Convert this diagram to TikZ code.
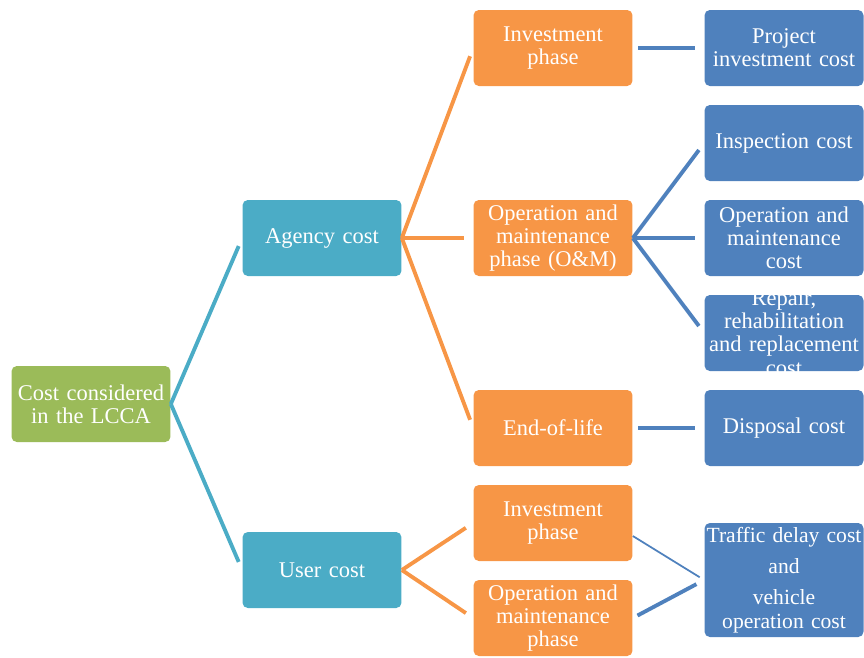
\documentclass[tikz,border=0pt]{standalone}
\usepackage{fontspec}
\setmainfont[WordSpace=0.8]{Liberation Serif}
\usepackage{xcolor}
\usepackage{tikz}
\usetikzlibrary{shapes}
\definecolor{rootgreen}{HTML}{9BBB59}
\definecolor{costteal}{HTML}{4BACC6}
\definecolor{phaseorange}{HTML}{F79646}
\definecolor{itemblue}{HTML}{4F81BD}
\tikzstyle{boxtext} = [text=white, align=center, text width=3.18cm,
  font=\fontsize{12.8}{13.2}\selectfont, inner sep=0pt]
\tikzstyle{block} = [rectangle, rounded corners=3pt, boxtext,
  minimum width=3.18cm, minimum height=1.52cm]
\tikzstyle{root} = [block, fill=rootgreen]
\tikzstyle{cost} = [block, fill=costteal]
\tikzstyle{phase} = [block, fill=phaseorange]
\tikzstyle{item} = [block, fill=itemblue]
\tikzstyle{line} = [draw, line width=2.2pt, shorten >=5pt]
% a line that may run past the box edges but stays centred
\newcommand{\wideline}[1]{\makebox[\linewidth]{#1}}

\begin{document}
\begin{tikzpicture}[x=0.02cm,y=-0.02cm]
\useasboundingbox (0,0) rectangle (864,657);

\node [root] (lcca) at (91,404) {Cost considered\\in the LCCA};

\node [cost] (agency) at (322,238) {Agency cost};
\node [cost] (user) at (322,570) {User cost};
\path [line, costteal] (lcca.east) -- (agency.west);
\path [line, costteal] (lcca.east) -- (user.west);

\node [phase] (inv) at (553,48) {Investment\\phase};
\node [phase] (om) at (553,238) {Operation and\\maintenance\\phase (O\&M)};
\node [phase] (eol) at (553,428) {End-of-life};
\path [line, phaseorange] (agency.east) -- (inv.west);
\path [line, phaseorange] (agency.east) -- (om.west);
\path [line, phaseorange] (agency.east) -- (eol.west);

\node [phase] (uinv) at (553,523) {Investment\\phase};
\node [phase] (uom) at (553,618) {Operation and\\maintenance\\phase};
\path [line, phaseorange] (user.east) -- (uinv.west);
\path [line, phaseorange] (user.east) -- (uom.west);

\node [item] (proj) at (784,48) {Project\\\wideline{investment cost}};
\node [item] (insp) at (784,143) {Inspection cost};
\node [item] (omc) at (784,238) {Operation and\\maintenance\\cost};
% four lines do not fit: keep the box size and let the text spill over
\node [item, label={[boxtext]center:{Repair,\\rehabilitation\\\wideline{and replacement}\\cost}}]
  (repair) at (784,333) {};
\node [item] (disp) at (784,428) {Disposal cost};
\node [item, minimum height=2.28cm, font=\fontsize{12.3}{13.2}\selectfont] (traffic) at (784,580)
  {\wideline{Traffic delay cost}\\[4.5pt]and\\[4.5pt]vehicle\\\wideline{operation cost}};

\path [line, itemblue, shorten <=3pt] (inv.east) -- (proj.west);
\path [line, itemblue] (om.east) -- (insp.west);
\path [line, itemblue] (om.east) -- (omc.west);
\path [line, itemblue] (om.east) -- (repair.west);
\path [line, itemblue, shorten <=3pt] (eol.east) -- (disp.west);

% user side: thin and thick links into one box
\path [draw, itemblue, line width=1pt, shorten >=3pt] (uinv.east) ++(0,13) -- (traffic.west);
\path [line, itemblue, shorten <=3pt] (uom.east) -- (traffic.west);
\end{tikzpicture}
\end{document}
